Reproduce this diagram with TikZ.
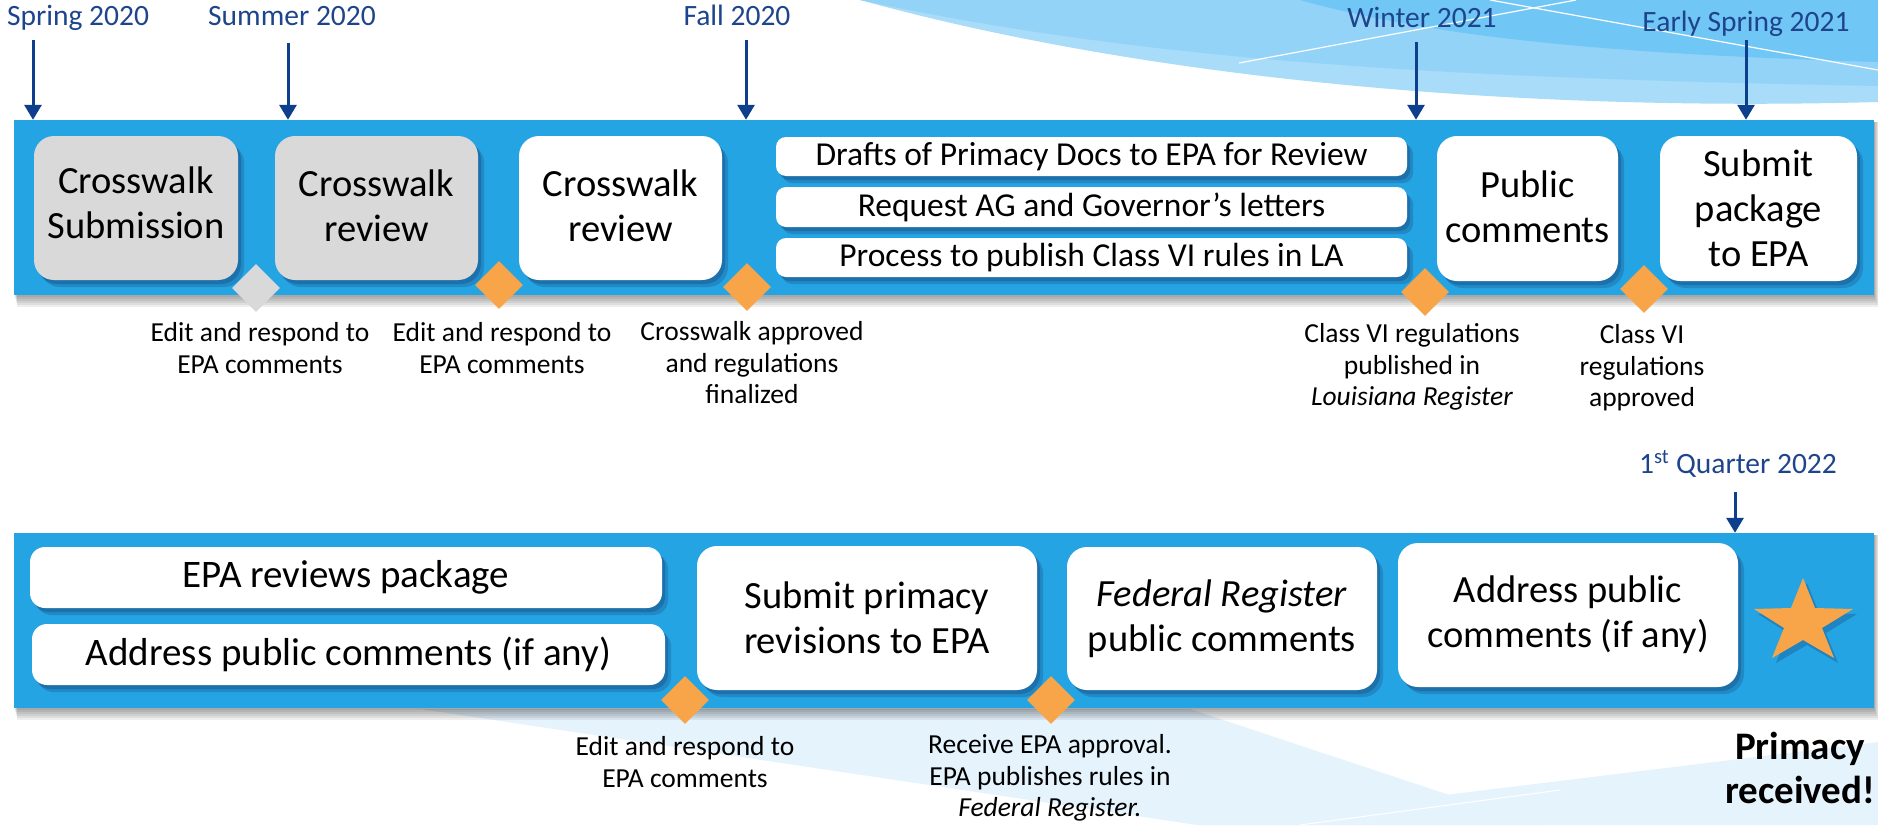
\documentclass[tikz,border=0pt]{standalone}
\usepackage{fontspec}
\setmainfont{Carlito}
\usetikzlibrary{shapes.geometric,arrows.meta,shadows}
\definecolor{barblue}{RGB}{37,164,228}
\definecolor{boxgray}{RGB}{217,217,217}
\definecolor{diaorange}{RGB}{247,165,72}
\definecolor{arrownavy}{RGB}{14,63,140}
\definecolor{datenavy}{RGB}{30,68,140}
\definecolor{shadownavy}{RGB}{20,60,110}
\definecolor{decoA}{RGB}{168,220,248}
\definecolor{decoB}{RGB}{146,211,247}
\definecolor{decoC}{RGB}{112,198,245}
\definecolor{decoL}{RGB}{229,243,252}
\newcommand{\fsz}[2]{\fontsize{#1}{#2}\selectfont}
\begin{document}
\begin{tikzpicture}[x=1pt,y=-1pt,
  wh/.style 2 args={minimum width=#1pt,minimum height=#2pt},
  bar/.style={fill=barblue,inner sep=0pt,minimum width=1860pt,minimum height=175pt},
  card/.style={rounded corners=20pt,inner sep=0pt,align=center,font=\fsz{38.5}{45},text=black,
    drop shadow={shadow xshift=3pt,shadow yshift=-4pt,opacity=.3,fill=shadownavy},
    drop shadow={shadow xshift=6pt,shadow yshift=-7pt,opacity=.25,fill=shadownavy}},
  graycard/.style={card,fill=boxgray},
  whitecard/.style={card,fill=white},
  strip/.style={whitecard,rounded corners=10pt,font=\fsz{33.5}{40}},
  dia/.style={diamond,aspect=1,inner sep=0pt,minimum size=48pt,fill=diaorange},
  lab/.style={align=center,font=\fsz{27.5}{31.5},inner sep=0pt},
  datelab/.style={font=\fsz{29.5}{34},text=datenavy,inner sep=0pt,anchor=base},
  darrow/.style={draw=arrownavy,line width=3pt,-{Triangle[width=17pt,length=15pt]}}
]
\useasboundingbox (0,0) rectangle (1878,825);
% background decoration, top right
\fill[decoA] (860,0) .. controls (1150,80) and (1520,112) .. (1878,102) -- (1878,0) -- cycle;
\fill[decoB] (860,0) .. controls (1150,62) and (1450,78) .. (1878,86) -- (1878,0) -- cycle;
\fill[decoC] (1300,0) .. controls (1450,42) and (1650,55) .. (1878,62) -- (1878,0) -- cycle;
\draw[white,line width=1.2pt] (1239,63) -- (1576,0);
\draw[white,line width=1.2pt] (1490,0) -- (1878,70);
% background decoration, bottom
\fill[decoL] (420,709) -- (1190,709) -- (1540,825) -- (1197,825) -- cycle;
\fill[decoL] (1200,825) -- (1878,742) -- (1878,825) -- cycle;
\draw[white,line width=1pt] (1300,825) -- (1560,790);
% bar shadows
\foreach \yy in {120,533}{
  \foreach \i in {1,...,6}{
    \fill[black,opacity=0.065] (14+\i*0.5,\yy+2) rectangle (1874+\i*0.7,\yy+175+\i*2);
  }
}
% bars
\node[bar] (bar1) at (944,207.5) {};
\node[bar] (bar2) at (944,620.5) {};
% top row boxes
\node[graycard,wh={204}{144},text depth=10pt] (b1) at (136,208) {Crosswalk\\Submission};
\node[graycard,wh={203}{144},text depth=4pt] (b2) at (376.5,208) {Crosswalk\\review};
\node[whitecard,wh={203}{144},text depth=4pt] (b3) at (620.5,208) {Crosswalk\\review};
\node[strip,wh={631}{39}] (s1) at (1091.5,156.5) {Drafts of Primacy Docs to EPA for Review};
\node[strip,wh={631}{40}] (s2) at (1091.5,207) {Request AG and Governor’s letters};
\node[strip,wh={631}{39}] (s3) at (1091.5,257.5) {Process to publish Class VI rules in LA};
\node[whitecard,wh={181}{145},text depth=4pt] (b4) at (1527.5,208.5) {Public\\comments};
\node[whitecard,wh={197}{145}] (b5) at (1758.5,208.5) {Submit\\package\\to EPA};
% bottom row boxes
\node[strip,rounded corners=15pt,font=\fsz{39}{45},wh={632}{61}] (e1) at (346,577.5) {EPA reviews package};
\node[strip,rounded corners=15pt,font=\fsz{39}{45},wh={633}{61}] (e2) at (348.5,654.5) {Address public comments (if any)};
\node[whitecard,wh={340}{144}] (e3) at (867,618) {Submit primacy\\revisions to EPA};
\node[whitecard,wh={310}{143}] (e4) at (1222,618.5) {\textit{Federal Register}\\public comments};
\node[whitecard,wh={340}{144}] (e5) at (1568,615) {Address public\\comments (if any)};
% star
\fill[diaorange,drop shadow={shadow xshift=4pt,shadow yshift=-5pt,opacity=.3,fill=shadownavy}]
  (1803,578) -- (1815,608) -- (1853,609) -- (1822,628) -- (1834,658) -- (1803,640)
  -- (1772,658) -- (1784,628) -- (1754,609) -- (1791,608) -- cycle;
% diamonds
\node[dia,fill=boxgray] (d1) at (256,288) {};
\node[dia] (d2) at (499,285) {};
\node[dia] (d3) at (747,287) {};
\node[dia] (d4) at (1425,292) {};
\node[dia] (d5) at (1644,289) {};
\node[dia] (f1) at (685,700) {};
\node[dia] (f2) at (1051,700) {};
% milestone labels
\node[lab] (l1) at (260,348) {Edit and respond to\\EPA comments};
\node[lab] (l2) at (502,348) {Edit and respond to\\EPA comments};
\node[lab] (l3) at (752,363) {Crosswalk approved\\and regulations\\finalized};
\node[lab] (l4) at (1412,367) {Class VI regulations\\published in\\\textit{Louisiana Register}};
\node[lab] (l5) at (1642,368) {Class VI\\regulations\\approved};
\node[lab] (g1) at (685,762) {Edit and respond to\\EPA comments};
\node[lab] (g2) at (1050,778) {Receive EPA approval.\\EPA publishes rules in\\\textit{Federal Register.}};
\node[lab,font=\bfseries\fsz{39}{44}] (pr) at (1800,768) {Primacy\\received!};
% dates
\node[datelab] (dSpring) at (78,25) {Spring 2020};
\node[datelab] (dSummer) at (292,25) {Summer 2020};
\node[datelab] (dFall) at (737,25) {Fall 2020};
\node[datelab] (dWinter) at (1422,27) {Winter 2021};
\node[datelab] (dEarly) at (1746,31) {Early Spring 2021};
\node[datelab] (dQ) at (1738,473) {1\textsuperscript{st} Quarter 2022};
% date arrows
\coordinate (t1) at (33,40);
\coordinate (t2) at (288,43);
\coordinate (t3) at (746,40);
\coordinate (t4) at (1416,42);
\coordinate (t5) at (1746,40);
\coordinate (t6) at (1735,492);
\foreach \t in {t1,t2,t3,t4,t5}{\draw[darrow] (\t) -- (\t |- bar1.north);}
\draw[darrow] (t6) -- (t6 |- bar2.north);
\end{tikzpicture}
\end{document}
